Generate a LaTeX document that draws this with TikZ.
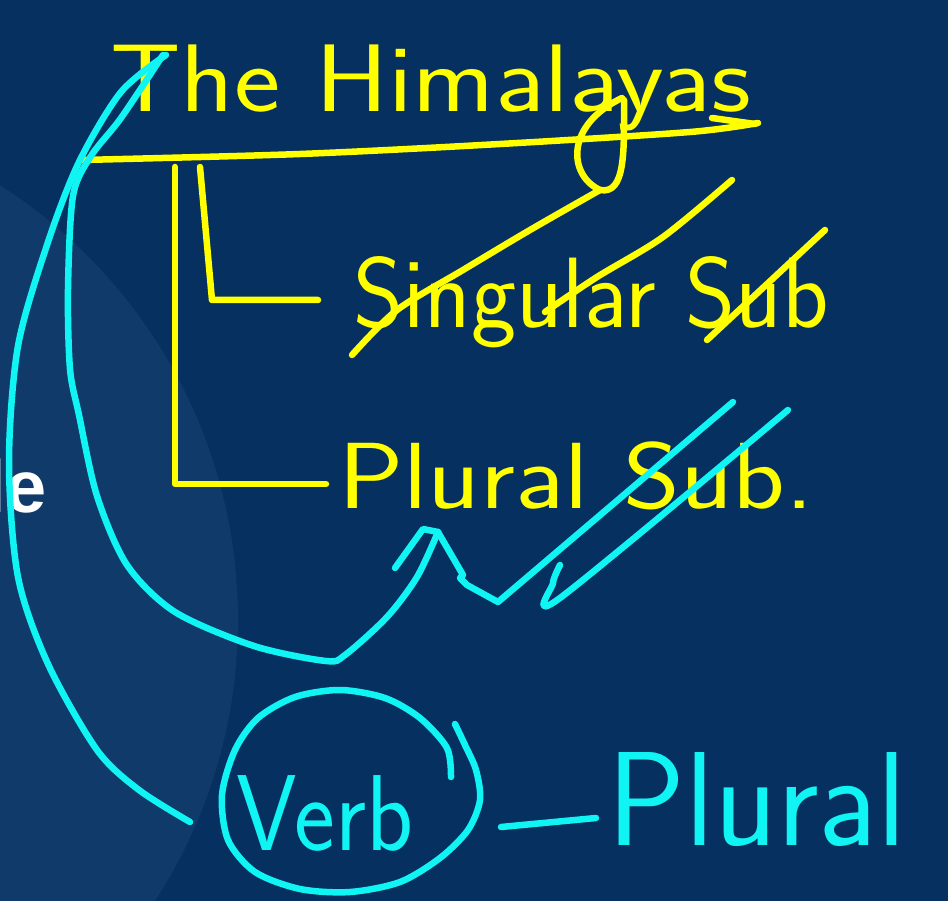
\documentclass[tikz,border=0pt]{standalone}
\usepackage{fontspec}
\usepackage{graphicx}
\usepackage{tikz}
\newfontfamily\slidefont{Liberation Sans}
\definecolor{slidebg}{HTML}{05305F}
\definecolor{slideglow}{HTML}{103A69}
\definecolor{hlyellow}{HTML}{FFFF00}
\definecolor{hlcyan}{HTML}{10F4F4}

\begin{document}
\begin{tikzpicture}[x=1pt, y=-1pt,
  pen/.style={line width=6.5pt, line cap=round, line join=round},
  hand/.style={inner sep=0pt, anchor=base west}]
\useasboundingbox (0,0) rectangle (948,901);
\fill[slidebg] (0,0) rectangle (948,901);
\begin{scope}
\clip (0,0) rectangle (948,901);
\fill[slideglow] (-278,620) circle (516pt);
\end{scope}
\node[anchor=base east, inner sep=0pt, text=white, font=\slidefont\bfseries\fontsize{74}{74}\selectfont] (cut) at (47,512) {le};

% yellow
\node[hand, text=hlyellow, font=\sffamily\fontsize{96}{96}\selectfont] (title) at (110,112) {\scalebox{1.15}[1]{The Himalayas}};
\node[hand, text=hlyellow, font=\sffamily\fontsize{100}{100}\selectfont] (singular) at (353,328) {\scalebox{0.96}[1]{Singular Sub}};
\node[hand, text=hlyellow, font=\sffamily\fontsize{94}{94}\selectfont] (plural) at (338,508) {\scalebox{1.16}[1]{Plural Sub.}};
\draw[pen, hlyellow] plot[smooth] coordinates{(82,160)(300,154)(500,144)(690,132)(758,123)};
\draw[pen, hlyellow] (712,118) -- (755,124);
\coordinate (outerstem) at (175,167);
\coordinate (innerstem) at (200,167);
\draw[pen, hlyellow] (outerstem) |- ([xshift=-12pt, yshift=24pt]plural.base west);
\draw[pen, hlyellow] (innerstem) -- (212,300) -- ([xshift=-35pt, yshift=28pt]singular.base west);
\draw[pen, hlyellow] (622,98) .. controls (565,125) and (568,175) .. (600,190);
\draw[pen, hlyellow] (624,100) .. controls (624,150) and (626,195) .. (600,190);
\draw[pen, hlyellow] plot[smooth] coordinates{(600,190)(530,230)(463,270)(397,310)(352,355)};
\draw[pen, hlyellow] plot[smooth] coordinates{(732,180)(663,237)(597,277)(545,312)};
\draw[pen, hlyellow] (825,230) -- (707,340);

% cyan
\node[hand, text=hlcyan, font=\sffamily\fontsize{108}{108}\selectfont] (verb) at (236,850) {\scalebox{0.9}[1]{Verb}};
\node[hand, text=hlcyan, font=\sffamily\fontsize{134}{134}\selectfont] (number) at (607,845) {\scalebox{0.97}[1]{Plural}};
\coordinate (tip) at ([xshift=100pt, yshift=-24pt]plural.base west);
\draw[pen, hlcyan] plot[smooth] coordinates{(166,55)(121,92)(79,162)(48,242)(18,346)(9,462)(18,577)(48,664)(97,750)(139,790)(190,822)};
\draw[pen, hlcyan] plot[smooth] coordinates{(163,55)(121,118)(91,156)(73,196)(68,289)(70,369)(79,415)(97,496)(127,565)(175,612)(254,646)(326,661)(345,655)(387,617)(417,577)(tip)};
\draw[pen, hlcyan] (395,568) -- (423,529) -- (tip);
\draw[pen, hlcyan] plot coordinates{(tip)(463,575)(460,578)(467,585)(498,602)(733,402)};
\draw[pen, hlcyan] plot[smooth] coordinates{(788,410)(560,598)(553,583)(560,565)};
\draw[pen, hlcyan] plot[smooth] coordinates{(451,777)(447,748)(420,718)(385,698)(340,690)(295,697)(258,718)(235,750)(222,795)(228,840)(255,872)(300,889)(350,892)(400,882)(440,858)(468,830)(480,800)(476,770)(465,745)(455,724)};
\draw[pen, hlcyan] (501,827) -- (596,818);
\end{tikzpicture}
\end{document}
